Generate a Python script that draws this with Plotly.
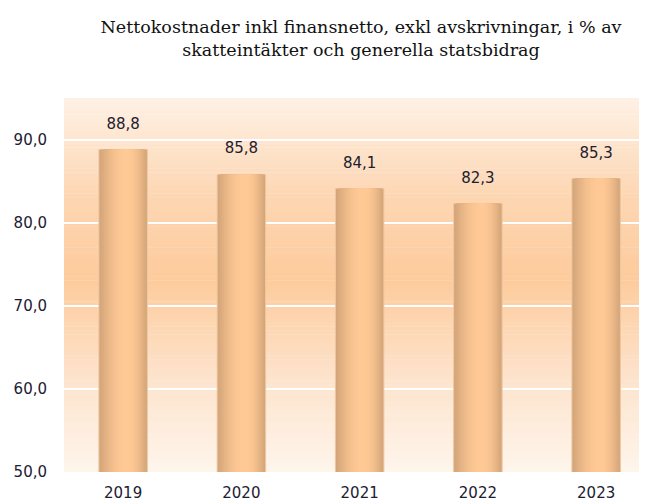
import math
import plotly.graph_objects as go

# ---- data ----
years = ["2019", "2020", "2021", "2022", "2023"]
values = [88.8, 85.8, 84.1, 82.3, 85.3]
value_labels = ["88,8", "85,8", "84,1", "82,3", "85,3"]
y_ticks = [50, 60, 70, 80, 90]
title_text = "Nettokostnader inkl finansnetto, exkl avskrivningar, i % av<br>skatteintäkter och generella statsbidrag"

# ---- style helpers ----
def lerp(a, b, t):
    return tuple(a[i] + (b[i] - a[i]) * t for i in range(3))

def rgb(c):
    return "rgb(%d,%d,%d)" % tuple(round(v) for v in c)

bg_stops = [(50, (254, 245, 236)), (62, (253, 226, 202)), (73, (253, 203, 156)),
            (83, (253, 214, 178)), (95, (254, 241, 229))]

def bg_color(y):
    for (y0, c0), (y1, c1) in zip(bg_stops[:-1], bg_stops[1:]):
        if y0 <= y <= y1:
            return lerp(c0, c1, (y - y0) / (y1 - y0))
    return bg_stops[-1][1]

fig = go.Figure()

# background gradient strips
shapes = []
step = 0.5
y = 50.0
while y < 95:
    shapes.append(dict(type="rect", xref="paper", yref="y", x0=0, x1=1, y0=y, y1=y + step + 0.05,
                       fillcolor=rgb(bg_color(y + step / 2)), line=dict(width=0), layer="below"))
    y += step

# cylinder-like bars via nested overlaid bars
edge = (211, 165, 121)
center = (255, 201, 149)
n_layers = 16
full_w = 0.41
for k in range(n_layers):
    s = k / (n_layers - 1)
    w = full_w * (1 - s * 0.93)
    col = lerp(edge, center, math.sin(s * math.pi / 2))
    fig.add_trace(go.Bar(
        x=years, y=values, width=[w] * len(years),
        offset=[-w / 2 + 0.03 * s] * len(years) if k else None,
        marker=dict(color=rgb(col),
                    line=dict(width=1 if k == 0 else 0, color="rgb(240,200,160)")),
        hoverinfo="skip", showlegend=False,
    ))

# value labels
fig.add_trace(go.Scatter(
    x=years, y=values, text=value_labels, mode="markers+text",
    textposition="top center",
    marker=dict(size=26, color="rgba(0,0,0,0)"),
    textfont=dict(family="DejaVu Sans", size=15, color="#1c2030"),
    hoverinfo="skip", showlegend=False,
))

# page body has an 8px margin: figure is sized to end exactly at 647x504
fig.update_layout(
    width=639, height=496,
    margin=dict(l=56, r=0, t=90, b=32),
    paper_bgcolor="white", plot_bgcolor="rgba(0,0,0,0)",
    barmode="overlay", separators=",.",
    shapes=shapes,
    title=dict(text=title_text, x=353 / 639, xanchor="center", xref="container",
               y=1 - 25 / 496, yanchor="top", yref="container",
               font=dict(family="DejaVu Serif", size=17.5, color="#111")),
    font=dict(family="DejaVu Sans", size=15, color="#1c2030"),
)
fig.update_xaxes(type="category", range=[-0.5, 4.43], showgrid=False, showline=False,
                 ticks="", ticklabelstandoff=10, tickfont=dict(size=15))
fig.update_yaxes(range=[50, 95], tickvals=y_ticks, tickformat=".1f", showgrid=True,
                 gridcolor="white", gridwidth=2, zeroline=False, showline=False,
                 ticks="", ticklabelstandoff=16, tickfont=dict(size=15))

fig.write_html("out.html")
